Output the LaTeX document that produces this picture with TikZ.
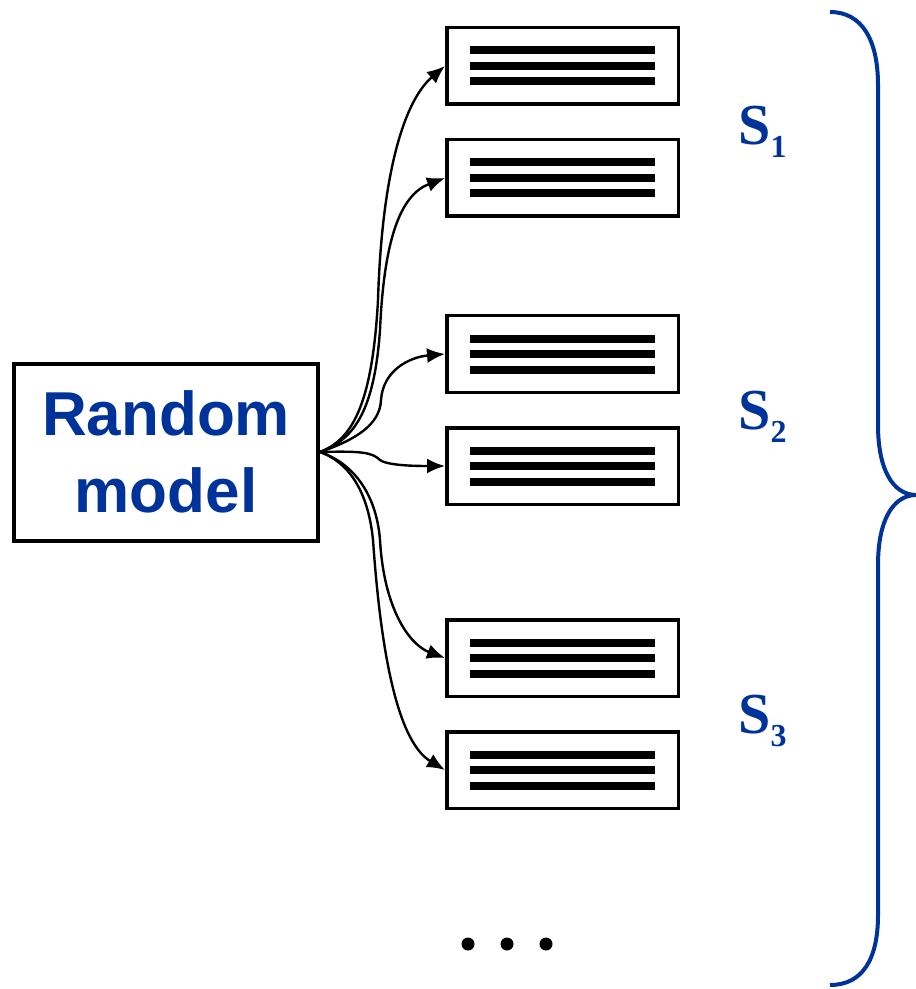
\documentclass[tikz,border=0pt]{standalone}
\usepackage{fontspec}
\setmainfont{Liberation Serif}
\newfontfamily\modelfont{Liberation Sans}
\usepackage{tikz}
\usetikzlibrary{arrows.meta}
\definecolor{modelblue}{RGB}{0,51,153}
\newcommand{\textbars}{\vbox{\hrule width 92.5pt height 4pt \vskip 3.75pt
  \hrule width 92.5pt height 4pt \vskip 3.75pt \hrule width 92.5pt height 4pt}}
\newcommand{\setlabel}[1]{\fontsize{29}{29}\selectfont\bfseries S\raisebox{-6.5pt}{\fontsize{16}{16}\selectfont #1}}

\begin{document}
\begin{tikzpicture}[x=0.5pt,y=-0.5pt,
  modelbox/.style={draw,line width=2pt,minimum width=152pt,minimum height=88.5pt,
    align=center,text=modelblue,font=\modelfont\bfseries\fontsize{31}{38.5}\selectfont},
  docbox/.style={draw,line width=1.75pt,minimum width=115.75pt,minimum height=38.25pt,inner sep=0pt},
  feed/.style={line width=1.2pt,-{Latex[length=9pt,width=7.5pt]}},
  setname/.style={anchor=base west,text=modelblue,inner sep=0pt}]
\useasboundingbox (0,0) rectangle (915,989);
\node[modelbox] (rm) at (166,452) {Random\\model};
\node[docbox] (d1) at (562.5,66) {\textbars};
\node[docbox] (d2) at (562.5,178) {\textbars};
\node[docbox] (d3) at (562.5,354) {\textbars};
\node[docbox] (d4) at (562.5,466) {\textbars};
\node[docbox] (d5) at (562.5,658) {\textbars};
\node[docbox] (d6) at (562.5,770) {\textbars};
\draw[feed] (rm.east) .. controls (350,440) and (372,410) .. (378,300)
  .. controls (382,170) and (405,100) .. (d1.west);
\draw[feed] (rm.east) .. controls (352,440) and (374,415) .. (380,330)
  .. controls (384,240) and (400,195) .. (d2.west);
\draw[feed] (rm.east) .. controls (355,440) and (380,425) .. (381,400)
  .. controls (383,370) and (410,357) .. (d3.west);
\draw[feed] (rm.east) .. controls (360,451) and (372,452) .. (380,460)
  .. controls (388,466) and (420,466) .. (d4.west);
\draw[feed] (rm.east) .. controls (350,462) and (376,490) .. (380,540)
  .. controls (384,610) and (410,645) .. (d5.west);
\draw[feed] (rm.east) .. controls (348,462) and (368,490) .. (373,540)
  .. controls (380,640) and (395,740) .. (d6.west);
\node[setname] (s1) at (738,145) {\setlabel{1}};
\node[setname] (s2) at (738,429) {\setlabel{2}};
\node[setname] (s3) at (738,733) {\setlabel{3}};
\fill (468,944) circle[radius=6.5];
\fill (507,944) circle[radius=6.5];
\fill (546,944) circle[radius=6.5];
\draw[modelblue,line width=2pt] (830,12) .. controls (862,12) and (878,40) .. (878,85)
  -- (878,425) .. controls (878,470) and (893,494) .. (915,495)
  .. controls (893,496) and (878,520) .. (878,565) -- (878,915)
  .. controls (878,960) and (862,985) .. (830,985);
\end{tikzpicture}
\end{document}
